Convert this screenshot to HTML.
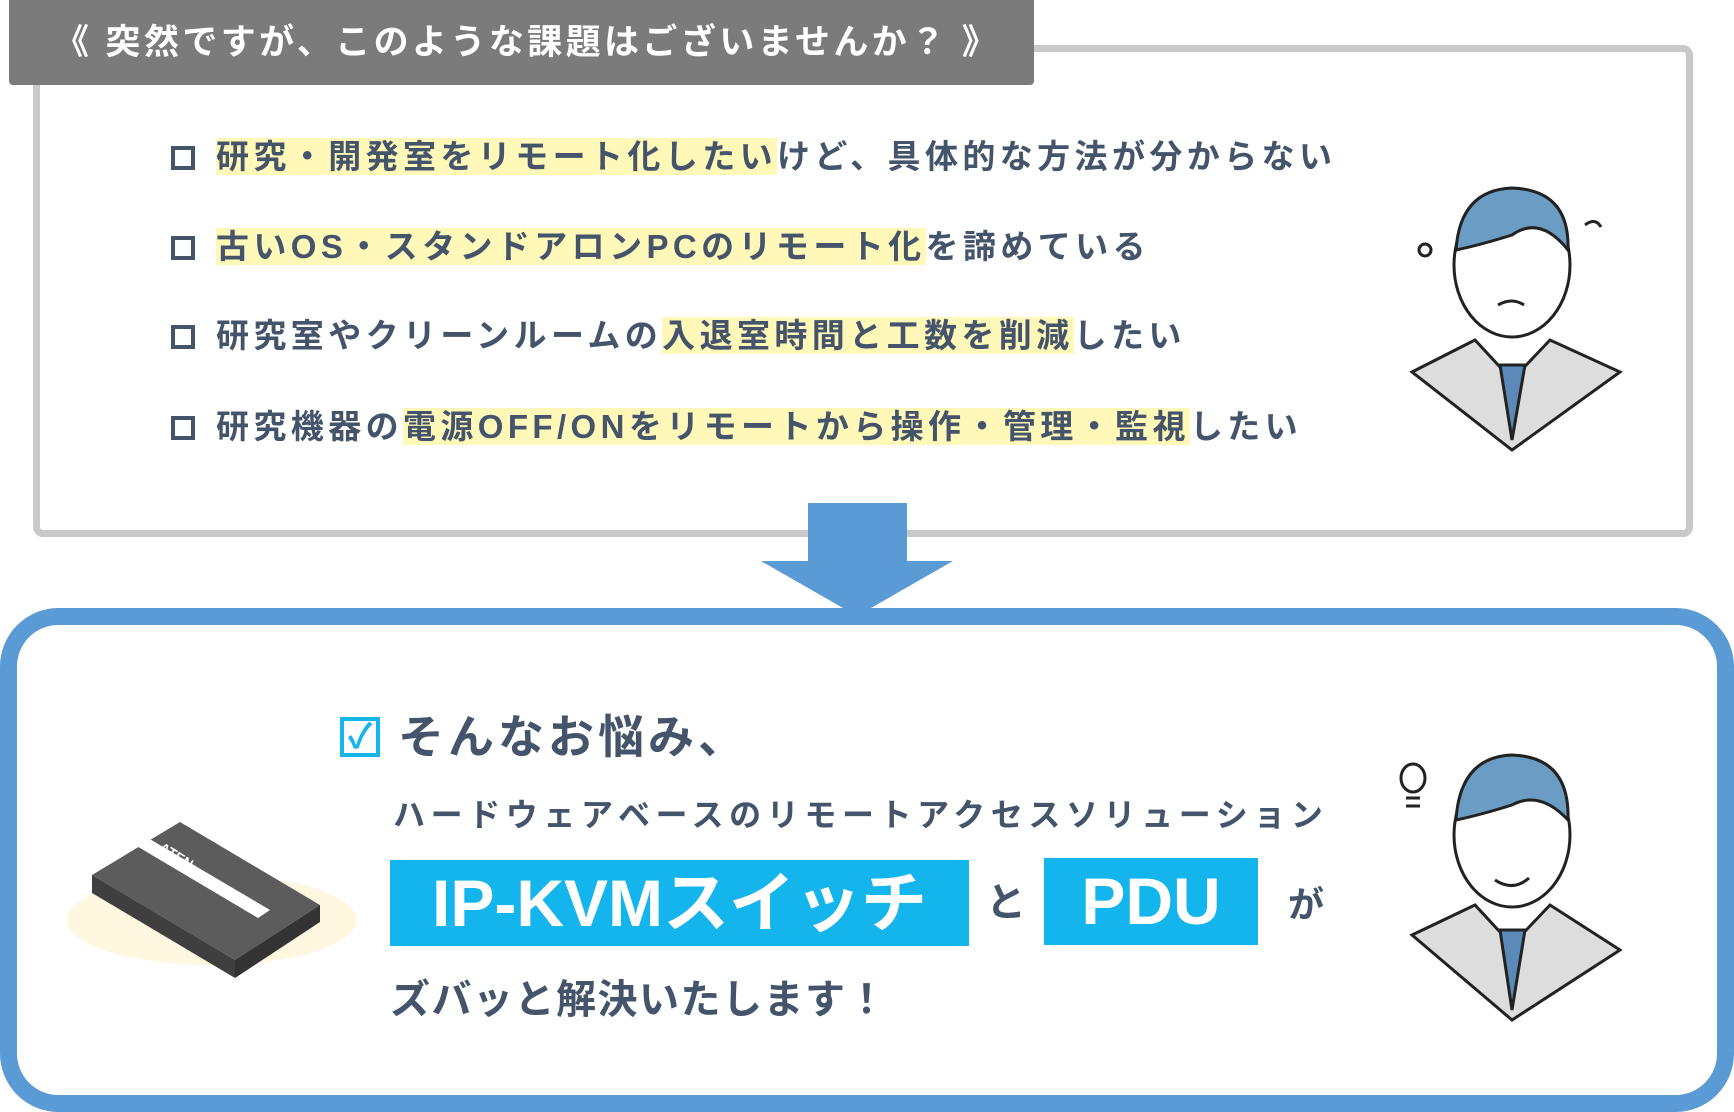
<!DOCTYPE html>
<html><head><meta charset="utf-8"><style>
body{margin:0;width:1734px;height:1112px;background:#fff;position:relative;overflow:hidden;font-family:"Liberation Sans","Noto Sans CJK JP",sans-serif;color:#44546a;font-weight:bold}
.abs{position:absolute;white-space:nowrap}
.hl{background:#fff8b8}
.li{font-size:33px;line-height:44px;letter-spacing:4.4px}
.li::before{content:"";position:absolute;left:-45px;top:11px;border:4px solid #44546a;width:16px;height:16px}
.bx{background:#14b4ec;color:#fff;text-align:center;font-size:66px;line-height:86px}
</style></head><body>
<div class="abs" style="left:33px;top:45px;width:1660px;height:492px;border:7px solid #c9c9c9;border-radius:10px;box-sizing:border-box"></div>
<div class="abs" style="left:9px;top:0;width:1025px;height:85px;background:#7b7b7b;border-radius:0 0 4px 4px;color:#fff;font-size:35px;line-height:85px;padding-left:45px;letter-spacing:3.4px;box-sizing:border-box">《 突然ですが、このような課題はございませんか？ 》</div>
<div class="abs li" style="left:216px;top:135px"><span class="hl">研究・開発室をリモート化したい</span>けど、具体的な方法が分からない</div>
<div class="abs li" style="left:216px;top:225px"><span class="hl">古いOS・スタンドアロンPCのリモート化</span>を諦めている</div>
<div class="abs li" style="left:216px;top:314px">研究室やクリーンルームの<span class="hl">入退室時間と工数を削減</span>したい</div>
<div class="abs li" style="left:216px;top:405px">研究機器の<span class="hl">電源OFF/ONをリモートから操作・管理・監視</span>したい</div>
<svg class="abs" style="left:0;top:0" width="1734" height="1112">
<rect x="808" y="503" width="99" height="60" fill="#5b9bd5"/>
<polygon points="761,561 953,561 857,616" fill="#5b9bd5"/>
<rect x="8.5" y="616.5" width="1717" height="487" rx="50" fill="#fff" stroke="#5b9bd5" stroke-width="17"/>
<!-- worried man -->
<g stroke="#222" stroke-width="3" fill="none">
<polygon points="1412,372 1475,340 1512,380 1550,340 1620,372 1512,450" fill="#ddd"/>
<polygon points="1500,365 1525,365 1512,440" fill="#5b8ab8"/>
<ellipse cx="1512" cy="265" rx="58" ry="72" fill="#fff"/>
<path d="M1456 250 Q1460 190 1512 188 Q1570 190 1568 250 Q1540 215 1512 235 Q1480 245 1456 250Z" fill="#6a9cc4"/>
<circle cx="1425" cy="250" r="6"/><path d="M1585 225 q10 -8 16 2"/>
<path d="M1498 305 q14 -8 26 0"/>
</g>
<!-- happy man -->
<g stroke="#222" stroke-width="3" fill="none">
<polygon points="1412,935 1475,905 1512,945 1550,905 1620,950 1512,1020" fill="#ddd"/>
<polygon points="1500,930 1525,930 1512,1010" fill="#5b8ab8"/>
<ellipse cx="1512" cy="835" rx="58" ry="72" fill="#fff"/>
<path d="M1456 820 Q1460 757 1512 755 Q1570 757 1568 820 Q1540 790 1512 805 Q1480 815 1456 820Z" fill="#6a9cc4"/>
<path d="M1495 880 q18 12 34 -2"/>
<ellipse cx="1413" cy="778" rx="12" ry="14"/><path d="M1406 798 h14 M1406 806 h14"/>
</g>
<!-- device -->
<ellipse cx="212" cy="920" rx="145" ry="45" fill="#fff7e0"/>
<polygon points="92,875 180,822 320,905 235,960" fill="#5c5c5c"/>
<polygon points="92,875 235,960 235,978 92,893" fill="#3f3f3f"/>
<polygon points="235,960 320,905 320,922 235,978" fill="#333"/>
<polygon points="135,845 148,838 270,910 258,918" fill="#fff"/>
<text x="158" y="850" font-size="14" fill="#fff" transform="rotate(32 158 850)">ATEN</text>
</svg>
<div class="abs" style="left:340px;top:717px;width:40px;height:40px;border:4px solid #14b4ec;box-sizing:border-box;color:#14b4ec;font-size:34px;line-height:32px;text-align:center">✓</div>
<div class="abs" style="left:398px;top:708px;font-size:46px;line-height:58px;letter-spacing:4px">そんなお悩み、</div>
<div class="abs" style="left:393px;top:795px;font-size:32px;line-height:40px;letter-spacing:5.6px">ハードウェアベースのリモートアクセスソリューション</div>
<div class="abs bx" style="left:390px;top:860px;width:579px;height:86px">IP-KVMスイッチ</div>
<div class="abs" style="left:986px;top:878px;font-size:40px;line-height:50px">と</div>
<div class="abs bx" style="left:1044px;top:858px;width:214px;height:87px">PDU</div>
<div class="abs" style="left:1288px;top:882px;font-size:36px;line-height:46px">が</div>
<div class="abs" style="left:390px;top:975px;font-size:40px;line-height:50px;letter-spacing:1.5px">ズバッと解決いたします！</div>
</body></html>
